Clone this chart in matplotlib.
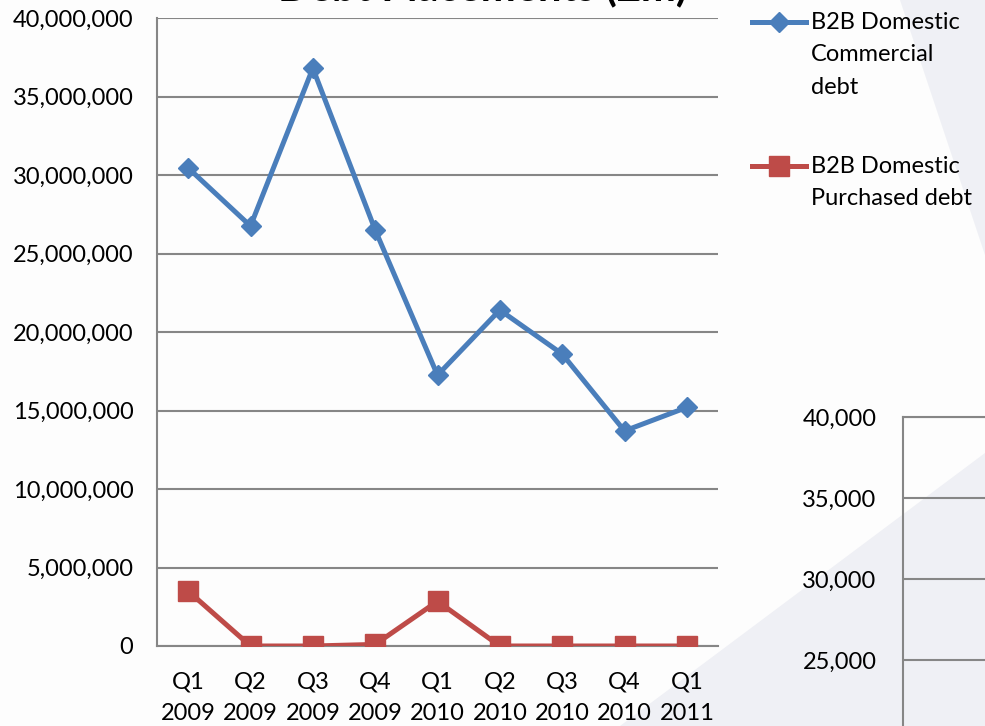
import matplotlib.pyplot as plt
from matplotlib.lines import Line2D
from matplotlib.patches import Polygon
from matplotlib.ticker import FuncFormatter

plt.rcParams["font.family"] = ["Lato", "DejaVu Sans"]

quarters = ["Q1\n2009", "Q2\n2009", "Q3\n2009", "Q4\n2009", "Q1\n2010",
            "Q2\n2010", "Q3\n2010", "Q4\n2010", "Q1\n2011"]
commercial = [30450000, 26750000, 36800000, 26500000, 17250000,
              21400000, 18600000, 13700000, 15200000]
purchased = [3500000, 0, 0, 100000, 2850000, 0, 0, 0, 0]
series_names = ["B2B Domestic\nCommercial\ndebt", "B2B Domestic\nPurchased debt"]
title_text = "Debt Placements (£m)"

BLUE = "#4a7ebb"
RED = "#be4b48"
GRID = "#868686"
W, H = 985, 726


def fx(px):
    return px / W


def fy(px):
    return 1 - px / H


fig = plt.figure(figsize=(9.85, 7.26), dpi=100)
fig.patch.set_facecolor("#fdfdfd")

# slide background wedges
fig.patches.append(Polygon([(fx(900), fy(0)), (1, 1), (fx(985), fy(255))],
                           closed=True, transform=fig.transFigure,
                           facecolor="#eff0f5", edgecolor="none", zorder=-5))
fig.patches.append(Polygon([(fx(620), 0), (1, fy(453)), (1, 0)],
                           closed=True, transform=fig.transFigure,
                           facecolor="#eff0f5", edgecolor="none", zorder=-5))

comma = FuncFormatter(lambda v, p: f"{int(v):,}")

# main chart
ax = fig.add_axes([fx(157), fy(646), fx(718 - 157), (646 - 18) / H])
ax.patch.set_alpha(0)
x = range(len(quarters))
ax.plot(x, commercial, color=BLUE, lw=3.6, marker="D", ms=10.5,
        mec=BLUE, mew=1, solid_joinstyle="miter", zorder=3)
ax.plot(x, purchased, color=RED, lw=3.6, marker="s", ms=14,
        mec=RED, mew=1, zorder=3)
ax.set_xlim(-0.5, len(quarters) - 0.5)
ax.set_ylim(0, 40000000)
ax.set_yticks(range(0, 40000001, 5000000))
ax.yaxis.set_major_formatter(comma)
ax.set_xticks(list(x))
ax.set_xticklabels(quarters, linespacing=1.67)
ax.grid(axis="y", color=GRID, lw=1.5)
ax.set_axisbelow(True)
for s in ["top", "right"]:
    ax.spines[s].set_visible(False)
for s in ["left", "bottom"]:
    ax.spines[s].set_color(GRID)
    ax.spines[s].set_linewidth(1.5)
ax.tick_params(length=0, labelsize=17, colors="black")
ax.tick_params(axis="y", pad=17)
ax.tick_params(axis="x", pad=18)

# second chart, mostly off the slide
ax2 = fig.add_axes([fx(903), 0, 0.2, (726 - 417) / H])
ax2.patch.set_alpha(0)
ax2.set_ylim(40000 - (726 - 417) / 81 * 5000, 40000)
ax2.set_yticks([25000, 30000, 35000, 40000])
ax2.yaxis.set_major_formatter(comma)
ax2.set_xticks([])
ax2.grid(axis="y", color=GRID, lw=1.5)
for s in ["right", "bottom"]:
    ax2.spines[s].set_visible(False)
for s in ["left", "top"]:
    ax2.spines[s].set_color(GRID)
    ax2.spines[s].set_linewidth(1.5)
ax2.tick_params(length=0, labelsize=17, colors="black", pad=19)

# legend
for (ypx, color, marker, ms, label) in [(22, BLUE, "D", 10.5, series_names[0]),
                                        (166, RED, "s", 14, series_names[1])]:
    fig.add_artist(Line2D([fx(752), fx(806)], [fy(ypx), fy(ypx)], color=color,
                          lw=3.6, transform=fig.transFigure))
    fig.add_artist(Line2D([fx(779)], [fy(ypx)], color=color, marker=marker,
                          ms=ms, transform=fig.transFigure))
    fig.text(fx(811), fy(ypx - 10), label, fontsize=17, va="top", ha="left",
             linespacing=1.67)

# slide title, cut off by the top edge as in the screenshot
fig.text(fx(483), fy(0), title_text, fontsize=30, fontweight="bold",
         ha="center", va="baseline")

fig.savefig("out.png", dpi=100, facecolor=fig.get_facecolor())
